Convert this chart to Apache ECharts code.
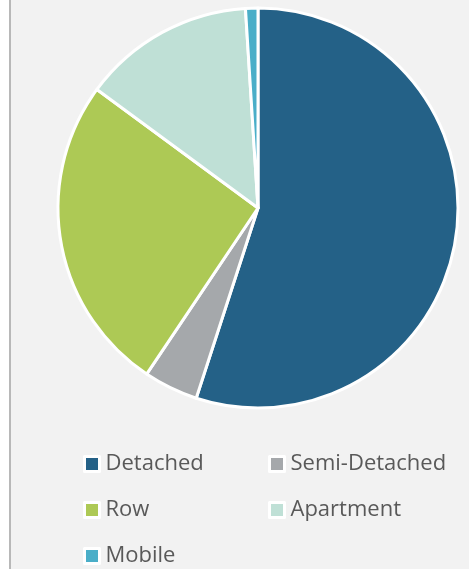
<!DOCTYPE html>
<html>
<head>
<meta charset="utf-8">
<script src="https://cdn.jsdelivr.net/npm/echarts@6/dist/echarts.min.js"></script>
<style>
  html, body { margin: 0; padding: 0; background: #fff; }
  #chart { width: 469px; height: 569px; }
</style>
</head>
<body>
<div id="chart"></div>
<script>
const categories = ['Detached', 'Semi-Detached', 'Row', 'Apartment', 'Mobile']
const values = [55.0, 4.4, 25.7, 13.9, 1.0]
const colors = ['#246187', '#a5a8ab', '#adc955', '#bfe0d6', '#4aaec8']

const chart = echarts.init(document.getElementById('chart'))

const legendText = { fontFamily: 'Open Sans', fontSize: 22, lineHeight: 22, color: '#595959', padding: [0, 0, 0, 1] }
const legendBase = {
    orient: 'vertical',
    top: 453,
    height: 116,
    padding: 0,
    itemGap: 24,
    itemWidth: 15,
    itemHeight: 15,
    itemStyle: { borderColor: '#fff', borderWidth: 3 },
    textStyle: legendText,
    icon: 'rect',
    selectedMode: false
}

chart.setOption({
    backgroundColor: '#f2f2f2',
    color: colors,
    graphic: [
        { type: 'rect', shape: { x: 0, y: 0, width: 9, height: 569 }, style: { fill: '#fff' }, silent: true },
        { type: 'rect', shape: { x: 9, y: 0, width: 2, height: 569 }, style: { fill: '#b8b8b8' }, silent: true }
    ],
    legend: [
        Object.assign({}, legendBase, { left: 83, data: ['Detached', 'Row', 'Mobile'] }),
        Object.assign({}, legendBase, { left: 268, data: ['Semi-Detached', 'Apartment'] })
    ],
    series: [
        {
            type: 'pie',
            center: [258, 208],
            radius: [0, 200],
            startAngle: 90,
            clockwise: true,
            label: { show: false },
            labelLine: { show: false },
            emphasis: { disabled: true },
            animation: false,
            itemStyle: { borderColor: '#fff', borderWidth: 3 },
            data: categories.map((name, i) => ({ name: name, value: values[i] }))
        }
    ]
})

window.addEventListener('resize', () => {
    chart.resize()
})
</script>
</body>
</html>
